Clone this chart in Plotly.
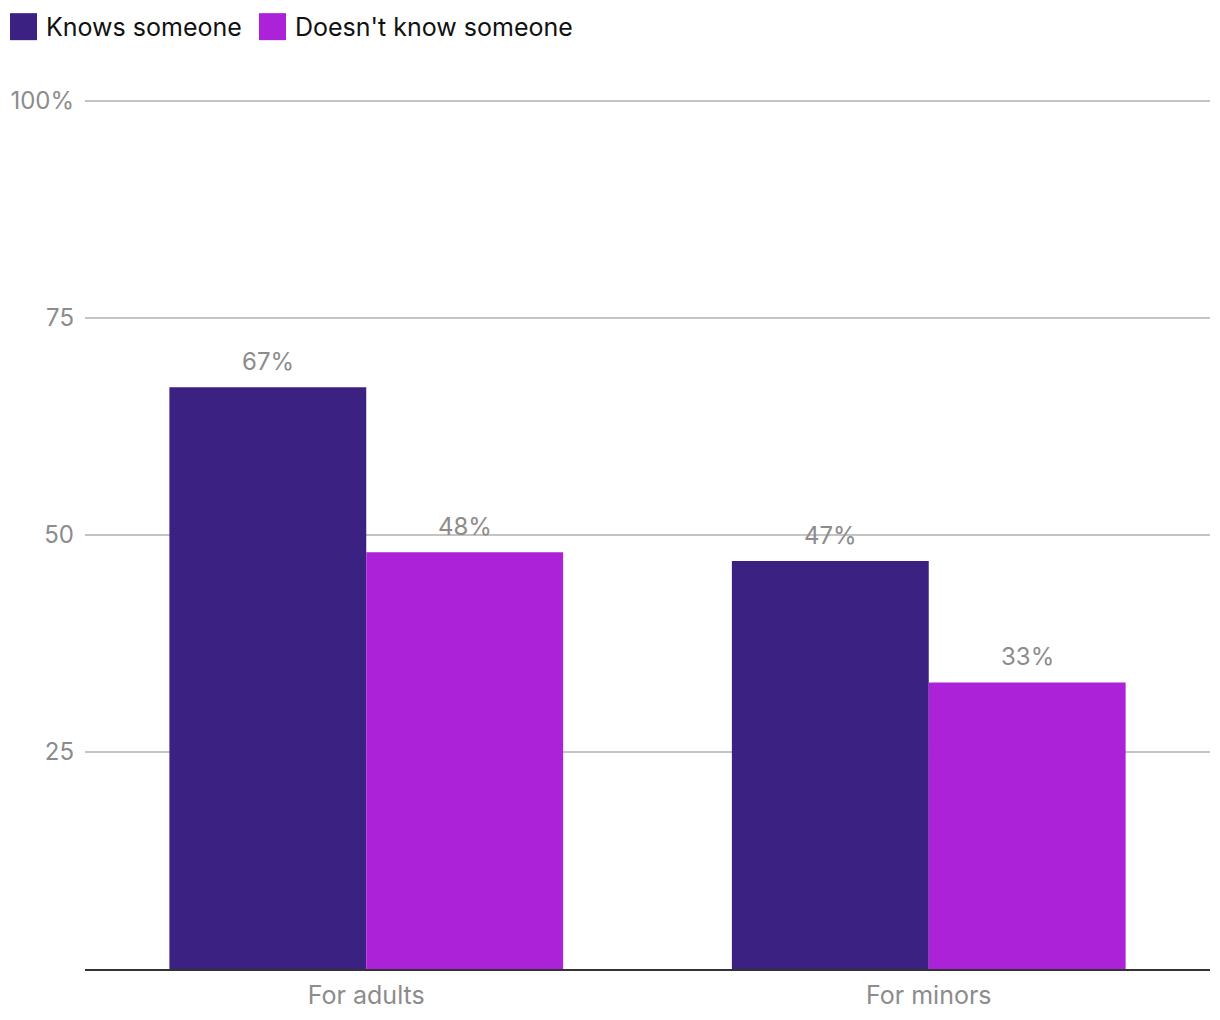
import plotly.graph_objects as go

categories = ["For adults", "For minors"]
knows = [67, 47]
doesnt_know = [48, 33]
series_names = ["Knows someone", "Doesn't know someone"]
tick_vals = [25, 50, 75, 100]
tick_text = ["25", "50", "75", "100%"]

colors = ["#3a2182", "#ab22d9"]
FONT = "Inter, Roboto, sans-serif"
GRAY = "#8c8c8c"

W, H = 1220, 1020
YMAX = 101
ML, MR, MB = 77, 18, 59
PX_PER_UNIT = 8.68
PH = PX_PER_UNIT * YMAX
MT = H - MB - PH
PW = W - ML - MR
BARGAP = 0.3
bar_w = PW / len(categories) * (1 - BARGAP) / 2

fig = go.Figure()
series = [knows, doesnt_know]
for i, (name, vals, col) in enumerate(zip(series_names, series, colors)):
    fig.add_trace(go.Bar(
        x=categories, y=vals, name=name, marker=dict(color=col, line=dict(width=0)),
        showlegend=False, hoverinfo="x+y+name",
    ))
    shift = (i - 0.5) * bar_w
    for c, v in zip(categories, vals):
        fig.add_annotation(
            x=c, y=v, xref="x", yref="y", text=f"{v}%", showarrow=False,
            xanchor="center", yanchor="bottom", xshift=shift, yshift=9,
            font=dict(family=FONT, size=24, color=GRAY),
        )

# manual legend (large square swatches), positions in figure pixels
legend_x = [2, 251]
sq = 27
cy = 19
for (name, col, lx) in zip(series_names, colors, legend_x):
    fig.add_shape(
        type="rect", xref="paper", yref="paper",
        x0=(lx - ML) / PW, x1=(lx + sq - ML) / PW,
        y0=(H - MB - (cy + sq / 2)) / PH, y1=(H - MB - (cy - sq / 2)) / PH,
        fillcolor=col, line=dict(width=0),
    )
    fig.add_annotation(
        xref="paper", yref="paper", x=(lx + sq + 7 - ML) / PW, y=(H - MB - cy) / PH,
        text=name, showarrow=False, xanchor="left", yanchor="middle",
        font=dict(family=FONT, size=25, color="#111111"),
    )

fig.update_layout(
    width=W, height=H,
    paper_bgcolor="white", plot_bgcolor="white",
    barmode="group", bargap=BARGAP, bargroupgap=0,
    margin=dict(l=ML, r=MR, t=MT, b=MB, autoexpand=False),
    font=dict(family=FONT, size=24, color=GRAY),
    showlegend=False,
)
fig.update_xaxes(
    showgrid=False, showline=True, linecolor="#333333", linewidth=2,
    ticks="", automargin=False, ticklabelstandoff=3,
    tickfont=dict(family=FONT, size=25, color=GRAY),
)
fig.update_yaxes(
    range=[0, YMAX], tickvals=tick_vals, ticktext=tick_text,
    showgrid=True, gridcolor="#c4c4c4", gridwidth=1.5,
    zeroline=False, showline=False, ticks="", automargin=False,
    ticklabelstandoff=10,
    tickfont=dict(family=FONT, size=24, color=GRAY),
)

fig.write_html("out.html")
